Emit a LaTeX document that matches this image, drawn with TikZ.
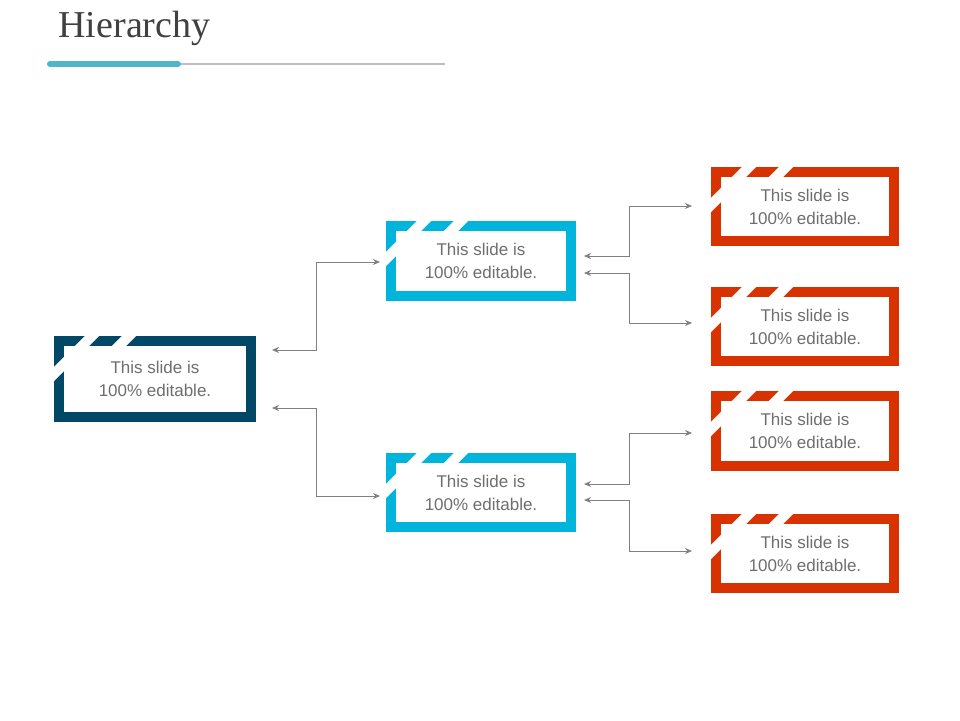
\documentclass[tikz,border=0pt]{standalone}
\usepackage{fontspec}
\usetikzlibrary{arrows.meta}
\setmainfont{Liberation Sans}
\newfontfamily\titlefont{Liberation Serif}
\definecolor{dkb}{RGB}{0,72,102}
\definecolor{cy}{RGB}{0,180,220}
\definecolor{rd}{RGB}{216,50,0}
\definecolor{tx}{RGB}{110,110,110}
\definecolor{ln}{RGB}{128,128,128}
\definecolor{tl}{RGB}{80,182,204}
\begin{document}
\begin{tikzpicture}[x=1pt,y=-1pt,
  conn/.style={draw=ln,line width=0.8pt,{Stealth[length=7pt,width=6pt]}-{Stealth[length=7pt,width=6pt]}},
  lbl/.style={text=tx,font=\fontsize{17}{23}\selectfont,align=center}]
\useasboundingbox (0,0) rectangle (960,720);
\newcommand{\stripebox}[6]{% name,x1,y1,x2,y2,color
  \fill[#6] (#2,#3) rectangle (#4,#5);
  \fill[white] (#2+10,#3+10) rectangle (#4-10,#5-10);
  \begin{scope}
   \clip (#2,#3) rectangle (#4,#5);
   \draw[white,line width=10pt] (#2-12,#3+50) -- (#2+48,#3-10);
   \draw[white,line width=10pt] (#2+55,#3+20) -- (#2+85,#3-10);
  \end{scope}
  \node[lbl] (#1) at ({(#2+#4)/2},{(#3+#5)/2}) {This slide is\\100\% editable.};
}
\node[anchor=west,text=black!75,font=\titlefont\fontsize{38}{42}\selectfont] (title) at (55,28) {Hierarchy};
\draw[black!25,line width=2pt] (47,64) -- (445,64);
\draw[tl,line width=6pt,line cap=round] (50,64) -- (178,64);
\stripebox{root}{54}{336}{256}{422}{dkb}
\stripebox{m1}{386}{221}{576}{301}{cy}
\stripebox{m2}{386}{453}{576}{532}{cy}
\stripebox{l1}{711}{167}{899}{246}{rd}
\stripebox{l2}{711}{287}{899}{366}{rd}
\stripebox{l3}{711}{391}{899}{471}{rd}
\stripebox{l4}{711}{514}{899}{593}{rd}
\coordinate (a1) at (272,350); \coordinate (b1) at (380,262);
\coordinate (a2) at (272,408); \coordinate (b2) at (380,496);
\draw[conn] (a1) -- (316,350) |- (b1);
\draw[conn] (a2) -- (316,408) |- (b2);
\coordinate (c1) at (584,256); \coordinate (d1) at (692,206);
\coordinate (c2) at (584,273); \coordinate (d2) at (692,323);
\coordinate (c3) at (584,484); \coordinate (d3) at (692,433);
\coordinate (c4) at (584,500); \coordinate (d4) at (692,551);
\draw[conn] (c1) -- (629,256) |- (d1);
\draw[conn] (c2) -- (629,273) |- (d2);
\draw[conn] (c3) -- (629,484) |- (d3);
\draw[conn] (c4) -- (629,500) |- (d4);
\end{tikzpicture}
\end{document}
